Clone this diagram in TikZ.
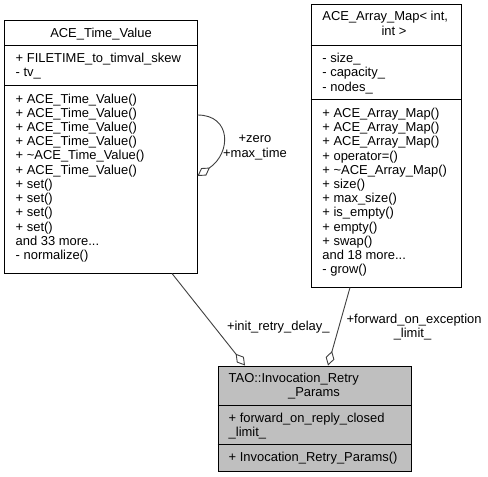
\documentclass[tikz,border=0pt]{standalone}
\usepackage{fontspec}
\setmainfont{Liberation Sans}
\usetikzlibrary{arrows.meta,calc}
\definecolor{edgegray}{HTML}{404040}
\definecolor{taofill}{HTML}{BFBFBF}
\newcommand\dfs{\fontsize{13}{14.2}\selectfont}
\newcommand\tdots{...}
\tikzset{
  classbox/.style={draw=black, line width=1bp, fill=white, inner sep=0pt, rectangle},
  txt/.style={inner sep=0pt, anchor=base west, font=\dfs},
  ctxt/.style={inner sep=0pt, anchor=base, font=\dfs},
  divider/.style={draw=black, line width=1bp},
  edge/.style={draw=edgegray, line width=0.9bp, -{Diamond[open, length=15bp, width=9bp]}},
}
\begin{document}
\begin{tikzpicture}[x=1bp, y=-1bp]
\path[use as bounding box, fill=white] (0,0) rectangle (488,477);

% ACE_Time_Value
\node[classbox, minimum width=192bp, minimum height=252bp] (tv) at (101,147) {};
\draw[divider] ($(tv.north west)+(0,25)$) -- ($(tv.north east)+(0,25)$);
\draw[divider] ($(tv.north west)+(0,65)$) -- ($(tv.north east)+(0,65)$);
\node[ctxt] (tvtitle) at (101,37.2) {ACE\_Time\_Value};
\node[txt] (tva1) at (15.5,62.6) {+ FILETIME\_to\_timval\_skew};
\node[txt] (tva2) at (15.5,76.8) {- tv\_};
\foreach \t [count=\i from 0] in {{+ ACE\_Time\_Value()},{+ ACE\_Time\_Value()},{+ ACE\_Time\_Value()},{+ ACE\_Time\_Value()},{+ \textasciitilde ACE\_Time\_Value()},{+ ACE\_Time\_Value()},{+ set()},{+ set()},{+ set()},{+ set()},{and 33 more\tdots},{- normalize()}}
  \node[txt] (tvm\i) at (15.5,{103.2+\i*14.2}) {\t};

% ACE_Array_Map
\node[classbox, minimum width=150bp, minimum height=282bp] (am) at (386,146) {};
\draw[divider] ($(am.north west)+(0,41)$) -- ($(am.north east)+(0,41)$);
\draw[divider] ($(am.north west)+(0,95)$) -- ($(am.north east)+(0,95)$);
\node[txt] (amt1) at (322.2,21) {ACE\_Array\_Map< int,};
\node[ctxt] (amt2) at (394,35.2) {int >};
\foreach \t [count=\i from 0] in {{- size\_},{- capacity\_},{- nodes\_}}
  \node[txt] (ama\i) at (322.2,{62.8+\i*14.2}) {\t};
\foreach \t [count=\i from 0] in {{+ ACE\_Array\_Map()},{+ ACE\_Array\_Map()},{+ ACE\_Array\_Map()},{+ operator=()},{+ \textasciitilde ACE\_Array\_Map()},{+ size()},{+ max\_size()},{+ is\_empty()},{+ empty()},{+ swap()},{and 18 more\tdots},{- grow()}}
  \node[txt] (amm\i) at (322.2,{117.5+\i*14.2}) {\t};

% TAO::Invocation_Retry_Params
\node[classbox, fill=taofill, minimum width=193bp, minimum height=105bp] (tao) at (314.5,418.5) {};
\draw[divider] ($(tao.north west)+(0,40)$) -- ($(tao.north east)+(0,40)$);
\draw[divider] ($(tao.north west)+(0,79)$) -- ($(tao.north east)+(0,79)$);
\node[txt] (taot1) at (228.5,382.3) {TAO::Invocation\_Retry};
\node[ctxt] (taot2) at (314,396.5) {\_Params};
\node[txt] (taoa1) at (228.5,422.5) {+ forward\_on\_reply\_closed};
\node[txt] (taoa2) at (228.5,436.7) {\_limit\_};
\node[txt] (taom1) at (228.5,461.5) {+ Invocation\_Retry\_Params()};

% edges
\draw[edge] ($(tv.east)+(0,-32)$) .. controls ($(tv.east)+(34,-32)$) and ($(tv.east)+(34,6)$) .. ($(tv.east)+(0,29)$);
\draw[edge] ($(tv.south)+(71,0)$) -- ($(tao.north)+(-69.5,0)$);
\draw[edge] ($(am.south)+(-36,0)$) -- ($(tao.north)+(13.5,0)$);

% edge labels
\node[ctxt] (lzero) at (255,143) {+zero};
\node[ctxt] (lmax) at (255,157.4) {+max\_time};
\node[txt] (linit) at (226.8,330) {+init\_retry\_delay\_};
\node[txt] (lfwd1) at (346.4,323.5) {+forward\_on\_exception};
\node[ctxt] (lfwd2) at (412.5,337) {\_limit\_};
\end{tikzpicture}
\end{document}
